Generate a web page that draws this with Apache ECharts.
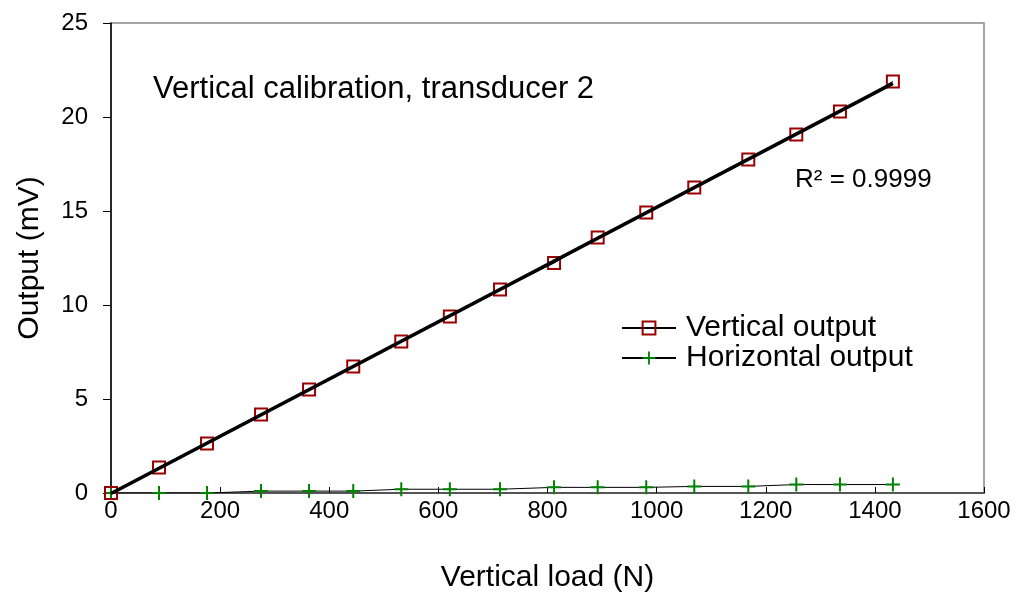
<!DOCTYPE html>
<html>
<head>
<meta charset="utf-8">
<script src="https://cdn.jsdelivr.net/npm/echarts@6/dist/echarts.min.js"></script>
<style>
html,body{margin:0;padding:0;background:#fff;}
#chart{width:1019px;height:598px;}
</style>
</head>
<body>
<div id="chart"></div>
<script>
// Data
const loadN = [0, 88, 176, 275, 363, 444, 532, 621, 713, 812, 892, 981, 1069, 1168, 1256, 1336, 1433];
const verticalOutput = [0, 1.36, 2.63, 4.18, 5.5, 6.73, 8.06, 9.39, 10.82, 12.23, 13.59, 14.92, 16.25, 17.74, 19.07, 20.29, 21.89];
const horizontalOutput = [0, 0, 0, 0.1, 0.1, 0.1, 0.2, 0.2, 0.2, 0.3, 0.3, 0.3, 0.35, 0.35, 0.45, 0.45, 0.45];
const seriesNames = ['Vertical output', 'Horizontal output'];
const chartNote = 'Vertical calibration, transducer 2';
const r2Text = 'R\u00B2 = 0.9999';

// Linear trendline (least squares) for the vertical output
const n = loadN.length;
const mx = loadN.reduce((a, b) => a + b, 0) / n;
const my = verticalOutput.reduce((a, b) => a + b, 0) / n;
let sxy = 0, sxx = 0;
for (let i = 0; i < n; i++) { sxy += (loadN[i] - mx) * (verticalOutput[i] - my); sxx += (loadN[i] - mx) ** 2; }
const slope = sxy / sxx, intercept = my - slope * mx;
const xStart = loadN[0], xEnd = loadN[n - 1];
const trend = [[xStart, intercept + slope * xStart], [xEnd, intercept + slope * xEnd]];

const pair = (xs, ys) => xs.map((x, i) => [x, ys[i]]);
const FONT = '"Liberation Sans", Arial, sans-serif';
const plusPath = 'path://M6,0H8V6H14V8H8V14H6V8H0V6H6Z';

const chart = echarts.init(document.getElementById('chart'), null, { renderer: 'canvas' });
chart.setOption({
  animation: false,
  backgroundColor: '#ffffff',
  textStyle: { fontFamily: FONT, color: '#000' },
  title: {
    text: chartNote, left: 153, top: 74, padding: 0,
    textStyle: { fontFamily: FONT, fontSize: 31, fontWeight: 'normal', color: '#000' }
  },
  graphic: [{
    type: 'text', left: 795, top: 167, z: 100,
    style: { text: r2Text, font: '26px ' + FONT, fill: '#000' }
  }],
  legend: {
    data: seriesNames, orient: 'vertical', left: 621, top: 313, padding: 0,
    itemGap: 0, itemWidth: 54, itemHeight: 16,
    textStyle: { fontFamily: FONT, fontSize: 30, color: '#000', padding: [0, 0, 0, 5] }
  },
  grid: {
    left: 111, right: 35, top: 23, bottom: 105,
    show: true, borderColor: '#888', borderWidth: 1.5, backgroundColor: 'transparent'
  },
  xAxis: {
    type: 'value', min: 0, max: 1600, interval: 200,
    name: 'Vertical load (N)', nameLocation: 'middle', nameGap: 70,
    nameTextStyle: { fontFamily: FONT, fontSize: 30, color: '#000' },
    axisLine: { show: true, onZero: false, lineStyle: { color: '#555', width: 2 } },
    axisTick: { show: true, inside: true, length: 6, lineStyle: { color: '#000', width: 1 } },
    axisLabel: { fontFamily: FONT, fontSize: 24, color: '#000', margin: 6, formatter: v => String(v) },
    splitLine: { show: false }
  },
  yAxis: {
    type: 'value', min: 0, max: 25, interval: 5,
    name: 'Output (mV)', nameLocation: 'middle', nameGap: 66, nameRotate: 90,
    nameTextStyle: { fontFamily: FONT, fontSize: 30, color: '#000' },
    axisLine: { show: true, lineStyle: { color: '#000', width: 1.5 } },
    axisTick: { show: true, inside: false, length: 8, lineStyle: { color: '#000', width: 1 } },
    axisLabel: { fontFamily: FONT, fontSize: 24, color: '#000', margin: 23 },
    splitLine: { show: false }
  },
  series: [
    {
      name: seriesNames[1], type: 'line', data: pair(loadN, horizontalOutput),
      symbol: plusPath, symbolSize: 14, z: 3,
      lineStyle: { color: '#000', width: 1 },
      itemStyle: { color: '#008000' }
    },
    {
      name: seriesNames[0], type: 'line', data: pair(loadN, verticalOutput),
      symbol: 'rect', symbolSize: 12, z: 4,
      lineStyle: { color: '#000', width: 1 },
      itemStyle: { color: 'rgba(255,255,255,0)', borderColor: '#990000', borderWidth: 2 }
    },
    {
      name: 'trend', type: 'line', data: trend, symbol: 'none', z: 5,
      lineStyle: { color: '#000', width: 3.5 }, silent: true
    }
  ]
});
</script>
</body>
</html>
